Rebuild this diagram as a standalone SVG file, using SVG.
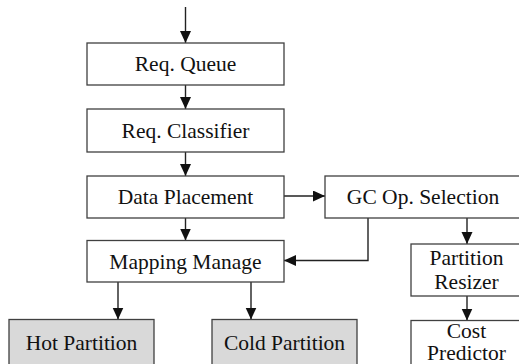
<svg xmlns="http://www.w3.org/2000/svg" width="519" height="364" viewBox="0 0 519 364">
  <style>
    .box { fill: #ffffff; stroke: #404040; stroke-width: 1.3; }
    .shaded { fill: #d9d9d9; stroke: #404040; stroke-width: 1.3; }
    .label { font-family: "Liberation Serif", "Times New Roman", serif; font-size: 21.5px; fill: #111111; text-anchor: middle; }
    .wire { fill: none; stroke: #222222; stroke-width: 1.4; marker-end: url(#arrow); }
  </style>
  <defs>
    <marker id="arrow" markerUnits="userSpaceOnUse" markerWidth="13" markerHeight="12" refX="12" refY="5.5" orient="auto">
      <path d="M0,0 L12,5.5 L0,11 z" fill="#111111"/>
    </marker>
  </defs>
  <rect width="519" height="364" fill="#ffffff"/>

  <g id="connectors">
    <line class="wire" x1="185.5" y1="7" x2="185.5" y2="43"/>
    <line class="wire" x1="185.5" y1="85" x2="185.5" y2="109"/>
    <line class="wire" x1="185.5" y1="152" x2="185.5" y2="176"/>
    <line class="wire" x1="185.5" y1="218" x2="185.5" y2="240.5"/>
    <line class="wire" x1="284" y1="196" x2="325" y2="196"/>
    <polyline class="wire" points="368,218 368,260.5 284,260.5"/>
    <line class="wire" x1="467" y1="218" x2="467" y2="244"/>
    <line class="wire" x1="467" y1="296" x2="467" y2="320.5"/>
    <line class="wire" x1="118" y1="282" x2="118" y2="319.5"/>
    <line class="wire" x1="251" y1="282" x2="251" y2="319.5"/>
  </g>

  <g id="req-queue">
    <rect class="box" x="87" y="43" width="197" height="42"/>
    <text class="label" x="185.5" y="71">Req. Queue</text>
  </g>
  <g id="req-classifier">
    <rect class="box" x="87" y="109" width="197" height="43"/>
    <text class="label" x="185.5" y="138">Req. Classifier</text>
  </g>
  <g id="data-placement">
    <rect class="box" x="87" y="176" width="197" height="42"/>
    <text class="label" x="185.5" y="204">Data Placement</text>
  </g>
  <g id="mapping-manage">
    <rect class="box" x="87" y="240.5" width="197" height="41.5"/>
    <text class="label" x="185.5" y="268.5">Mapping Manage</text>
  </g>
  <g id="gc-op-selection">
    <rect class="box" x="325" y="176" width="197" height="42"/>
    <text class="label" x="423" y="204">GC Op. Selection</text>
  </g>
  <g id="partition-resizer">
    <rect class="box" x="411" y="244" width="112" height="52"/>
    <text class="label" x="466.5" y="264.5">Partition</text>
    <text class="label" x="466.5" y="288.5">Resizer</text>
  </g>
  <g id="cost-predictor">
    <rect class="box" x="411" y="320.5" width="112" height="52"/>
    <text class="label" x="466.5" y="338">Cost</text>
    <text class="label" x="466.5" y="360">Predictor</text>
  </g>
  <g id="hot-partition">
    <rect class="shaded" x="9" y="319.5" width="145" height="52"/>
    <text class="label" x="81.5" y="350">Hot Partition</text>
  </g>
  <g id="cold-partition">
    <rect class="shaded" x="212" y="319.5" width="145" height="52"/>
    <text class="label" x="284.5" y="350">Cold Partition</text>
  </g>
</svg>
